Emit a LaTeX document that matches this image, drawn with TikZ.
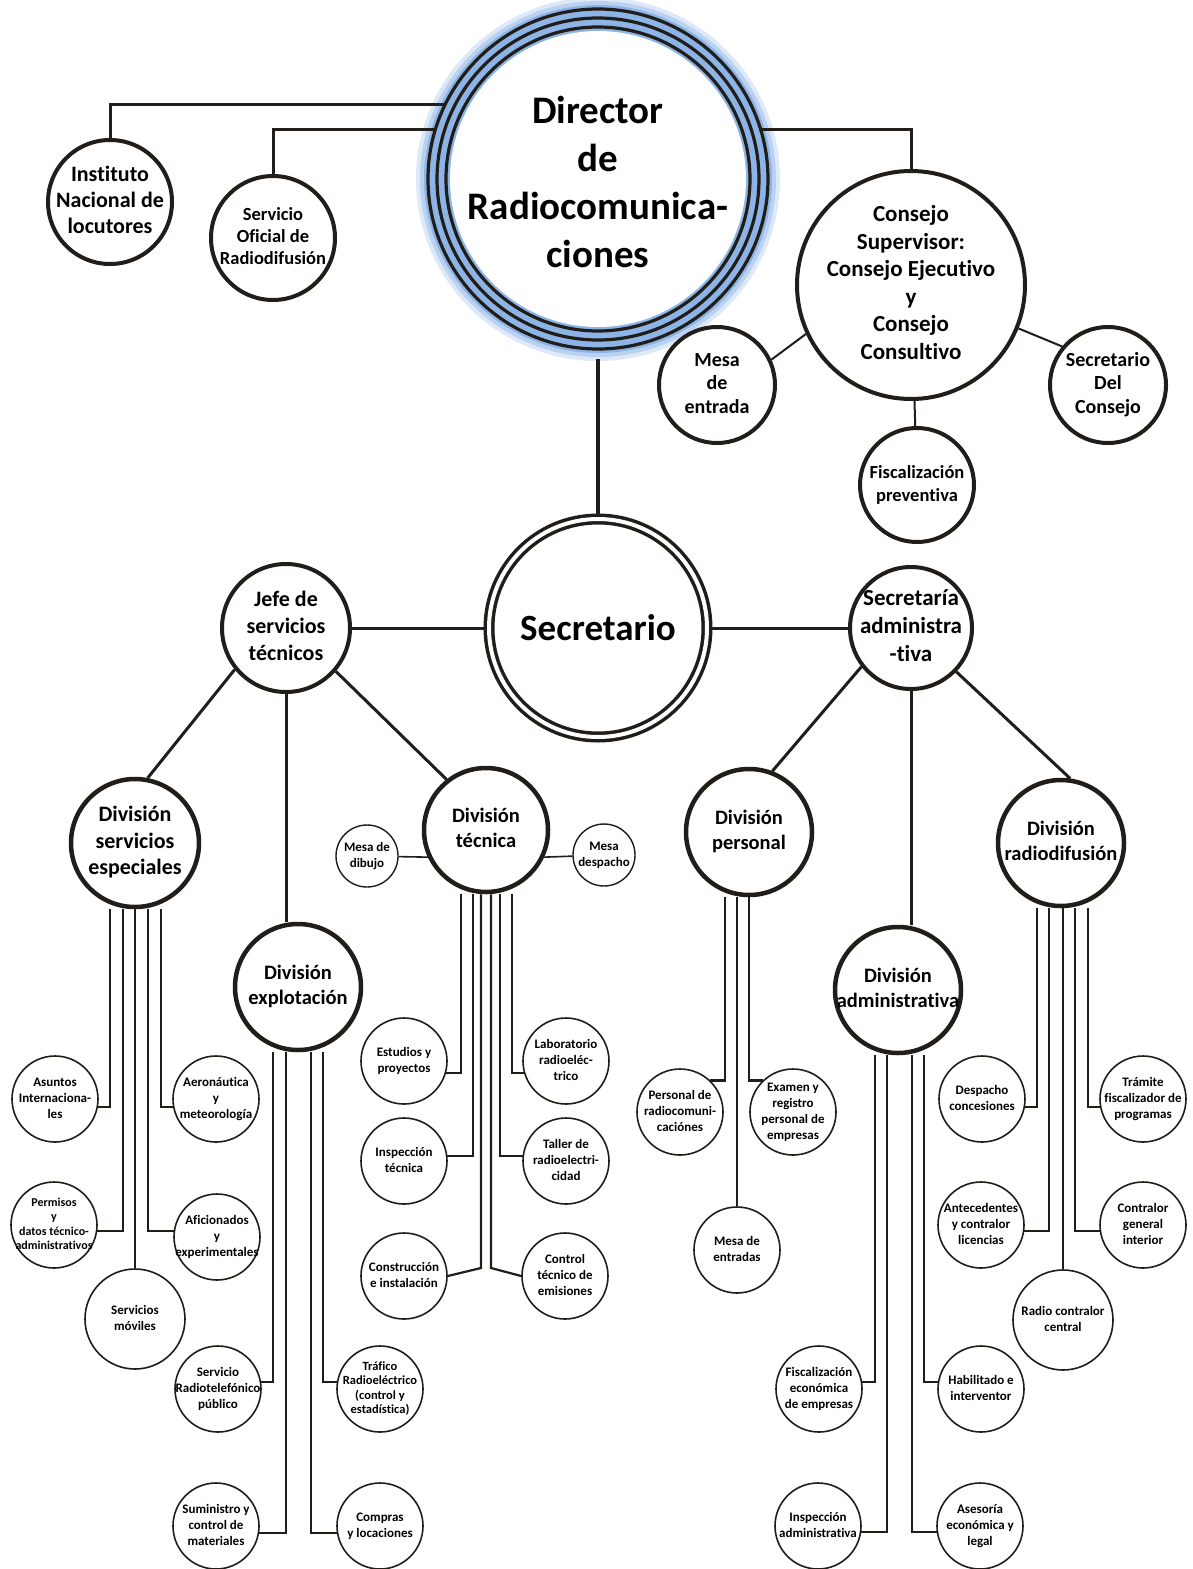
\documentclass[tikz,border=0pt]{standalone}
\usepackage{fontspec}
\setmainfont{Carlito}[Ligatures={NoCommon}]
\definecolor{ink}{RGB}{33,29,24}
\definecolor{halo}{RGB}{140,180,230}
\newcommand{\ctxt}[1]{\makebox[0pt]{\begin{tabular}{@{}c@{}}#1\end{tabular}}}

\begin{document}
\begin{tikzpicture}[x=1pt, y=-1pt,
  bub/.style={circle, draw=ink, fill=white, inner sep=0pt, line width=4pt},
  divn/.style={bub, line width=4.5pt, minimum size=126pt, font=\bfseries\fontsize{20.5}{24.5}\selectfont},
  leaf/.style={circle, draw=ink, fill=white, inner sep=0pt, line width=1.6pt, minimum size=86pt, font=\bfseries\fontsize{13}{16}\selectfont},
  link/.style={draw=ink, line width=3pt},
  comb/.style={draw=ink, line width=2.2pt},
  thinlink/.style={draw=ink, line width=1.6pt}]

\useasboundingbox (0,0) rectangle (1193,1569);

\coordinate (dirc) at (598,179);
\fill[halo!30] (dirc) circle (182pt);
\fill[halo!60] (dirc) circle (178pt);
\fill[halo] (dirc) circle (174pt);
\fill[white] (dirc) circle (148pt);
\draw[ink, line width=3.2pt] (dirc) circle (152pt) (dirc) circle (161pt) (dirc) circle (170pt);
\node[circle, inner sep=0pt, minimum size=346pt, font=\bfseries\fontsize{39}{48}\selectfont] (dir) at (598,186) {\ctxt{Director\\de\\Radiocomunica-\\ciones}};

\node[bub, minimum size=124pt, font=\bfseries\fontsize{22}{26}\selectfont] (inl) at (110,202) {\ctxt{Instituto\\Nacional de\\locutores}};
\node[bub, minimum size=124pt, font=\bfseries\fontsize{18.5}{22}\selectfont] (sor) at (273,238) {\ctxt{Servicio\\Oficial de\\Radiodifusión}};
\node[bub, minimum size=228pt, font=\bfseries\fontsize{23}{27.6}\selectfont] (csj) at (911,285) {\ctxt{Consejo\\Supervisor:\\Consejo Ejecutivo\\y\\Consejo\\Consultivo}};
\node[bub, minimum size=116pt, font=\bfseries\fontsize{20}{23.5}\selectfont] (mde) at (717,385) {\ctxt{Mesa\\de\\entrada}};
\node[bub, minimum size=116pt, font=\bfseries\fontsize{20}{23.5}\selectfont] (sdc) at (1108,385) {\ctxt{Secretario\\Del\\Consejo}};
\node[bub, minimum size=114pt, font=\bfseries\fontsize{18.5}{23}\selectfont] (fpv) at (917,485) {\ctxt{Fiscalización\\preventiva}};

\node[circle, draw=ink, fill=white, double=white, line width=3.5pt, double distance=4pt, minimum size=218pt, inner sep=0pt, outer sep=5pt, font=\bfseries\fontsize{37}{44}\selectfont] (sec) at (598,628) {Secretario};
\node[bub, minimum size=128pt, font=\bfseries\fontsize{22}{27}\selectfont] (jst) at (286,628) {\ctxt{Jefe de\\servicios\\técnicos}};
\node[bub, minimum size=122pt, font=\bfseries\fontsize{23}{28}\selectfont] (sadm) at (911,628) {\ctxt{Secretaría\\administra\\-tiva}};

\node[divn, minimum size=128pt, font=\bfseries\fontsize{22}{26.5}\selectfont] (dse) at (135,843) {\ctxt{División\\servicios\\especiales}};
\node[divn, minimum size=124pt] (dt) at (486,830) {\ctxt{División\\técnica}};
\node[divn] (dex) at (298,987) {\ctxt{División\\explotación}};
\node[divn] (dpe) at (749,832) {\ctxt{División\\personal}};
\node[divn] (dad) at (898,990) {\ctxt{División\\administrativa}};
\node[divn] (drd) at (1061,843) {\ctxt{División\\radiodifusión}};

\node[leaf, minimum size=62pt, line width=1.4pt] (mdd) at (367,856) {\ctxt{Mesa de\\dibujo}};
\node[leaf, minimum size=62pt, line width=1.4pt] (mdp) at (604,855) {\ctxt{Mesa\\despacho}};

\node[leaf] (asu) at (55,1099) {\ctxt{Asuntos\\Internaciona-\\les}};
\node[leaf] (aer) at (216,1099) {\ctxt{Aeronáutica\\y\\meteorología}};
\node[leaf, font=\bfseries\fontsize{12}{14.5}\selectfont] (pdt) at (54,1225) {\ctxt{Permisos\\y\\datos técnico-\\administrativos}};
\node[leaf] (afi) at (217,1237) {\ctxt{Aficionados\\y\\experimentales}};
\node[leaf, minimum size=100pt] (smo) at (135,1319) {\ctxt{Servicios\\móviles}};
\node[leaf] (srp) at (218,1389) {\ctxt{Servicio\\Radiotelefónico\\público}};
\node[leaf] (sum) at (216,1526) {\ctxt{Suministro y\\control de\\materiales}};
\node[leaf] (com) at (380,1526) {\ctxt{Compras\\y locaciones}};
\node[leaf, font=\bfseries\fontsize{12.5}{14.5}\selectfont] (tra) at (380,1389) {\ctxt{Tráfico\\Radioeléctrico\\(control y\\estadística)}};

\node[leaf] (est) at (404,1061) {\ctxt{Estudios y\\proyectos}};
\node[leaf] (ins) at (404,1161) {\ctxt{Inspección\\técnica}};
\node[leaf] (cns) at (404,1276) {\ctxt{Construcción\\e instalación}};
\node[leaf] (lab) at (566,1061) {\ctxt{Laboratorio\\radioeléc-\\trico}};
\node[leaf] (tal) at (566,1161) {\ctxt{Taller de\\radioelectri-\\cidad}};
\node[leaf] (ctl) at (565,1276) {\ctxt{Control\\técnico de\\emisiones}};

\node[leaf] (prc) at (680,1112) {\ctxt{Personal de\\radiocomuni-\\caciónes}};
\node[leaf] (exa) at (793,1112) {\ctxt{Examen y\\registro\\personal de\\empresas}};
\node[leaf] (men) at (737,1250) {\ctxt{Mesa de\\entradas}};

\node[leaf] (fec) at (819,1389) {\ctxt{Fiscalización\\económica\\de empresas}};
\node[leaf] (iad) at (818,1526) {\ctxt{Inspección\\administrativa}};
\node[leaf] (ase) at (980,1526) {\ctxt{Asesoría\\económica y\\legal}};
\node[leaf] (hab) at (981,1389) {\ctxt{Habilitado e\\interventor}};

\node[leaf] (dco) at (982,1099) {\ctxt{Despacho\\concesiones}};
\node[leaf] (ant) at (981,1225) {\ctxt{Antecedentes\\y contralor\\licencias}};
\node[leaf, minimum size=100pt] (rcc) at (1063,1320) {\ctxt{Radio contralor\\central}};
\node[leaf] (cgi) at (1143,1225) {\ctxt{Contralor\\general\\interior}};
\node[leaf] (trm) at (1143,1099) {\ctxt{Trámite\\fiscalizador de\\programas}};

\draw[link] (dir.152) -| (inl);
\draw[link] (dir.161) -| (sor);
\draw[link] (dir.19) -| (csj);
\draw[link, line width=4pt] (dir) -- (sec);
\draw[link, line width=2pt] (mde.25) -- (csj.205);
\draw[link, line width=2pt] (csj.-22) -- (sdc.140);
\draw[link, line width=2pt] (csj) -- (fpv);

\draw[link] (jst) -- (sec);
\draw[link] (sec) -- (sadm);
\draw[link] (jst.219) -- (dse.79);
\draw[link] (jst.south) -- (jst.south |- dex.north);
\draw[link] (jst.-41) -- (dt.128);
\draw[link] (sadm.218) -- (dpe.69);
\draw[link] (sadm.south) -- (sadm.south |- dad.north);
\draw[link] (sadm.-44) -- (drd.82);

\draw[thinlink] (mdd) -- (dt.205);
\draw[thinlink] (dt.-25) -- (mdp);

\draw[comb] (dse.south -| 110,0) |- (asu.-10);
\draw[comb] (dse.south -| 123,0) |- (pdt.-8);
\draw[comb] (dse.south -| 135,0) -- (smo);
\draw[comb] (dse.south -| 148,0) |- (afi.172);
\draw[comb] (dse.south -| 161,0) |- (aer.190);

\draw[comb] (dex.south -| 273,0) |- (srp.9);
\draw[comb] (dex.south -| 286,0) |- (sum.-9);
\draw[comb] (dex.south -| 311,0) |- (com.189);
\draw[comb] (dex.south -| 323,0) |- (tra.171);

\draw[comb] (dt.south -| 461,0) |- (est.-16);
\draw[comb] (dt.south -| 473,0) |- (ins.7);
\draw[comb] (dt.south -| 481,0) -- (481,1268) -- (cns.east);
\draw[comb] (dt.south -| 491,0) -- (491,1268) -- (ctl.west);
\draw[comb] (dt.south -| 500,0) |- (tal.173);
\draw[comb] (dt.south -| 512,0) |- (lab.196);

\draw[comb] (dpe.south -| 725,0) |- (prc.46);
\draw[comb] (dpe.south -| 737,0) -- (men);
\draw[comb] (dpe.south -| 749,0) |- (exa.134);

\draw[comb] (dad.south -| 875,0) |- (fec.9);
\draw[comb] (dad.south -| 887,0) |- (iad.-8);
\draw[comb] (dad.south -| 912,0) |- (ase.188);
\draw[comb] (dad.south -| 924,0) |- (hab.171);

\draw[comb] (drd.south -| 1037,0) |- (dco.-10);
\draw[comb] (drd.south -| 1049,0) |- (ant.-8);
\draw[comb] (drd.south -| 1063,0) -- (rcc);
\draw[comb] (drd.south -| 1075,0) |- (cgi.188);
\draw[comb] (drd.south -| 1088,0) |- (trm.190);
\end{tikzpicture}
\end{document}
